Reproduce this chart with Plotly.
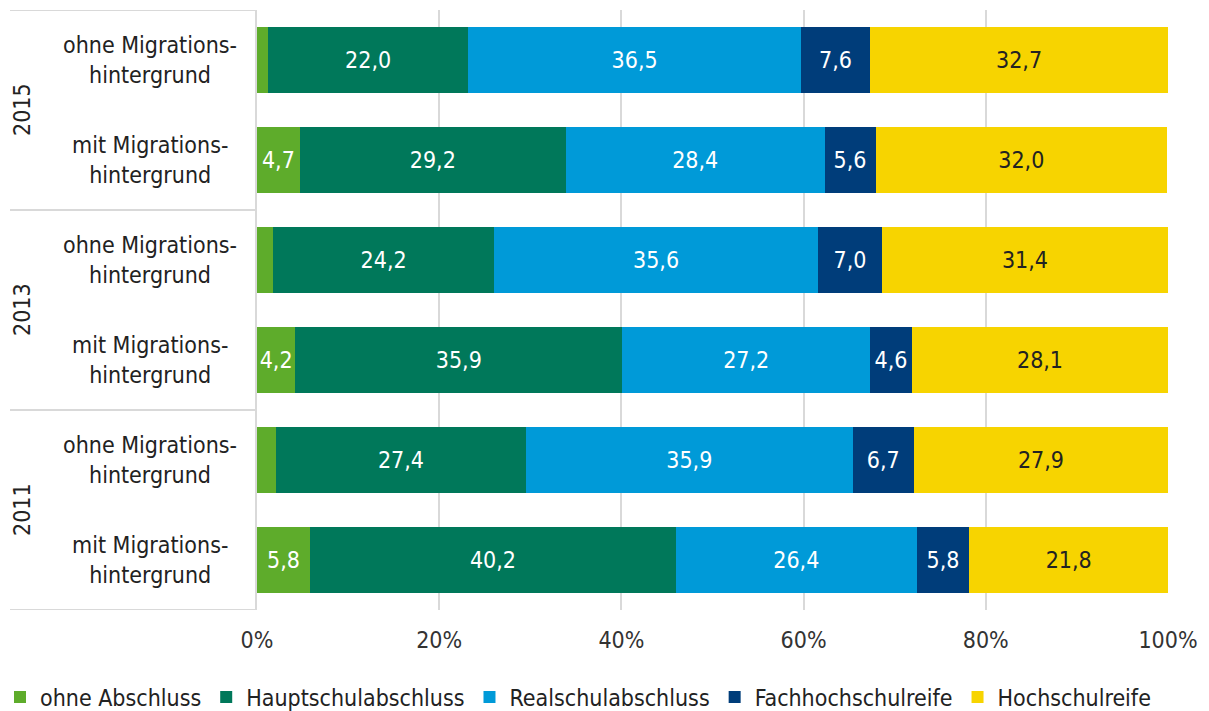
import plotly.graph_objects as go

years = ["2015", "2015", "2013", "2013", "2011", "2011"]
groups = ["ohne Migrations-<br>hintergrund", "mit Migrations-<br>hintergrund"] * 3
row_ids = ["2015 ohne", "2015 mit", "2013 ohne", "2013 mit", "2011 ohne", "2011 mit"]

series_names = ["ohne Abschluss", "Hauptschulabschluss", "Realschulabschluss",
                "Fachhochschulreife", "Hochschulreife"]
ohne_abschluss = [1.2, 4.7, 1.8, 4.2, 2.1, 5.8]
hauptschul = [22.0, 29.2, 24.2, 35.9, 27.4, 40.2]
realschul = [36.5, 28.4, 35.6, 27.2, 35.9, 26.4]
fachhoch = [7.6, 5.6, 7.0, 4.6, 6.7, 5.8]
hochschul = [32.7, 32.0, 31.4, 28.1, 27.9, 21.8]
series_values = [ohne_abschluss, hauptschul, realschul, fachhoch, hochschul]

colors = ["#5eac2b", "#00785a", "#009ad8", "#003d7a", "#f7d400"]
text_colors = ["white", "white", "white", "white", "#222222"]
tick_vals = [0, 20, 40, 60, 80, 100]
tick_text = ["0%", "20%", "40%", "60%", "80%", "100%"]

FONT = "DejaVu Sans Condensed, sans-serif"
FS = 23

fig = go.Figure()
for name, vals, col, tcol in zip(series_names, series_values, colors, text_colors):
    labels = [("%.1f" % v).replace(".", ",") if v >= 3 else "" for v in vals]
    fig.add_trace(go.Bar(
        y=row_ids, x=vals, name=name, orientation="h",
        marker=dict(color=col, line=dict(width=0)),
        text=labels, textposition="inside", insidetextanchor="middle",
        textangle=0, constraintext="none",
        textfont=dict(color=tcol, size=FS, family=FONT),
        hoverinfo="x+name",
    ))

# page is offset by 8px body margin
L, R, T, B = 249, 49, 2, 109
W, H = 1209, 711
pw = W - L - R
ph = H - T - B

annotations = []
for rid, g in zip(row_ids, groups):
    annotations.append(dict(
        x=(142 - L) / pw, xref="paper", y=rid, yref="y",
        text=g, showarrow=False, align="center", xanchor="center", yanchor="middle",
        font=dict(size=FS, family=FONT, color="#222222")))
for i, yr in enumerate(["2015", "2013", "2011"]):
    annotations.append(dict(
        x=(14 - L) / pw, xref="paper", y=2 * i + 0.5, yref="y",
        text=yr, textangle=-90, showarrow=False, xanchor="center", yanchor="middle",
        font=dict(size=FS, family=FONT, color="#222222")))

shapes = []
for yv in [-0.5, 1.5, 3.5, 5.5]:
    shapes.append(dict(type="line", xref="paper", x0=(2 - L) / pw, x1=0,
                       yref="y", y0=yv, y1=yv,
                       line=dict(color="#d9d9d9", width=2)))

fig.update_layout(
    barmode="stack", bargap=0.34,
    width=W, height=H,
    margin=dict(l=L, r=R, t=T, b=B, autoexpand=False),
    plot_bgcolor="white", paper_bgcolor="white",
    font=dict(family=FONT, size=FS, color="#222222"),
    xaxis=dict(range=[0, 100], tickvals=tick_vals, ticktext=tick_text,
               showgrid=True, gridcolor="#d9d9d9", gridwidth=2,
               zeroline=False, showline=False, ticks="",
               tickfont=dict(size=FS, color="#333333"), ticklabelstandoff=14),
    yaxis=dict(categoryorder="array", categoryarray=row_ids,
               showticklabels=False, showgrid=False, zeroline=False,
               showline=True, linecolor="#d9d9d9", linewidth=2,
               range=[5.5, -0.5]),
    legend=dict(orientation="h", xref="paper", yref="paper",
                x=(-8 - L) / pw, y=(602 - 687 - 2) / ph, xanchor="left", yanchor="middle",
                font=dict(size=23, family=FONT, color="#222222"),
                traceorder="normal", itemwidth=30, tracegroupgap=0),
    annotations=annotations, shapes=shapes,
    showlegend=True,
)

fig.write_html("out.html")
